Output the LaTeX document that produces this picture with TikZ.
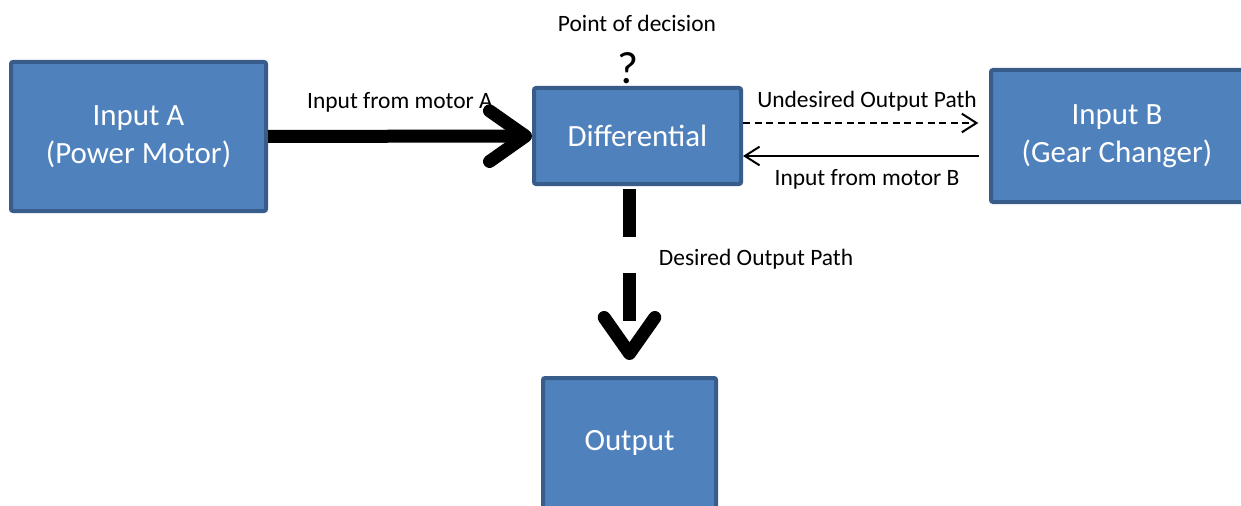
\documentclass[tikz,border=0pt]{standalone}
\usepackage{fontspec}
\setmainfont{Carlito}
\usetikzlibrary{arrows.meta}
\definecolor{boxfill}{HTML}{4F81BD}
\definecolor{boxline}{HTML}{385D8A}
\begin{document}
\begin{tikzpicture}[x=0.75pt,y=-0.75pt,
  block/.style={draw=boxline, line width=3pt, fill=boxfill, rounded corners=1.5pt,
    text=white, font=\fontsize{23.2}{28.5}\selectfont, align=center, inner sep=0pt},
  lbl/.style={font=\fontsize{17.6}{20}\selectfont, inner sep=0pt},
  heavy/.style={line width=9.75pt, -{Straight Barb[length=27pt,width=38pt,round]}},
  light/.style={line width=1.5pt, -{Straight Barb[length=11pt,width=14pt]}}]
\useasboundingbox (0,0) rectangle (1241,506);
\fill[white] (0,0) rectangle (1241,506);

% blocks
\node[block, minimum width=191.25pt, minimum height=111.75pt] (A) at (138.5,136.5) {Input A\\(Power Motor)};
\node[block, minimum width=155.25pt, minimum height=72pt] (D) at (637.5,136) {Differential};
\node[block, minimum width=189pt, minimum height=99pt] (B) at (1117,136) {Input B\\(Gear Changer)};
\node[block, minimum width=129.75pt, minimum height=97.5pt] (O) at (629.5,443) {Output};

% connectors
\draw[heavy] (A) -- (D);
\draw[heavy, dash pattern=on 36pt off 27pt, shorten <=2.25pt, shorten >=12pt] (O.north |- D.south) -- (O.north);
\draw[light, dash pattern=on 5.25pt off 3.4pt, shorten >=8pt] ([yshift=9.75pt]D.east) -- ([yshift=9.75pt]B.west);
\draw[light, shorten <=7.5pt] ([yshift=-15pt]B.west) -- ([yshift=-15pt]D.east);

% labels
\node[lbl] (la) at (400,102) {Input from motor A};
\node[lbl] (lu) at (867,101) {Undesired Output Path};
\node[lbl] (lb) at (867,179) {Input from motor B};
\node[lbl] (ld) at (756,259) {Desired Output Path};
\node[lbl] (lp) at (637,23) {Point of decision};
\node[font=\fontsize{34}{38}\selectfont, inner sep=0pt] (q) at (628,68) {?};
\end{tikzpicture}
\end{document}
